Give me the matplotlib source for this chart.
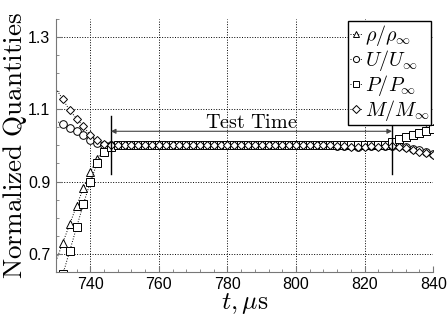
import matplotlib
matplotlib.use("Agg")
import matplotlib.pyplot as plt
from matplotlib.ticker import MultipleLocator, AutoMinorLocator

plt.rcParams['mathtext.fontset'] = 'cm'
plt.rcParams['font.family'] = 'Liberation Sans'

# sample times, microseconds
t = [730, 732, 734, 736, 738, 740, 742, 744, 746, 748, 750, 752, 754, 756, 758,
     760, 762, 764, 766, 768, 770, 772, 774, 776, 778, 780, 782, 784, 786, 788,
     790, 792, 794, 796, 798, 800, 802, 804, 806, 808, 810, 812, 814, 816, 818,
     820, 822, 824, 826, 828, 830, 832, 834, 836, 838, 840]

rho = ([0.680, 0.731, 0.782, 0.833, 0.882, 0.926, 0.963, 0.990, 0.999, 1.0]
       + [1.0] * 39
       + [1.010, 1.019, 1.023, 1.030, 1.035, 1.042, 1.048])
U = ([1.068, 1.058, 1.048, 1.039, 1.028, 1.016, 1.006, 1.001, 1.0, 1.0]
     + [1.0] * 31 + [0.999, 0.998, 0.997, 0.996, 0.997, 0.998, 0.997, 0.999]
     + [0.999, 0.997, 0.995, 0.991, 0.986, 0.981, 0.977])
P = ([0.590, 0.643, 0.708, 0.773, 0.838, 0.898, 0.951, 0.982, 0.996, 1.0]
     + [1.0] * 39
     + [1.008, 1.017, 1.022, 1.029, 1.034, 1.040, 1.046])
M = ([1.157, 1.127, 1.097, 1.074, 1.053, 1.028, 1.014, 1.005, 1.001, 1.0]
     + [1.0] * 31 + [0.999, 0.998, 0.996, 0.995, 0.996, 0.997, 0.996, 0.998]
     + [0.998, 0.995, 0.992, 0.988, 0.983, 0.978, 0.974])

labels = [r'$\rho/\rho_\infty$', r'$U/U_\infty$', r'$P/P_\infty$', r'$M/M_\infty$']
markers = ['^', 'o', 's', 'D']

test_start, test_end = 746, 828

fig = plt.figure(figsize=(4.48, 3.15), dpi=100)
ax = fig.add_axes([0.125, 0.137, 0.842, 0.803])

for y, m, lab in zip([rho, U, P, M], markers, labels):
    ax.plot(t, y, ls=':', lw=0.7, color='k', marker=m, ms=5.5 if m != 'D' else 4.5,
            mfc='white', mec='k', mew=0.7, markevery=slice(1, None), label=lab)

# test time window
for xv in [test_start, test_end]:
    ax.plot([xv, xv], [0.92, 1.08], color='k', lw=1.0)
ax.annotate('', xy=(test_start, 1.039), xytext=(test_end, 1.039),
            arrowprops=dict(arrowstyle='<|-|>', color='#444444', lw=0.8,
                            mutation_scale=7, shrinkA=0, shrinkB=0))
ax.text((test_start + test_end) / 2, 1.047, r'$\mathrm{Test\ Time}$',
        ha='center', va='baseline', fontsize=14.5)

ax.set_xlim(730, 840)
ax.set_ylim(0.65, 1.35)
ax.xaxis.set_major_locator(MultipleLocator(20))
ax.xaxis.set_minor_locator(AutoMinorLocator(5))
ax.set_yticks([0.7, 0.9, 1.1, 1.3])
ax.yaxis.set_minor_locator(AutoMinorLocator(4))
ax.tick_params(which='both', direction='in', color='#777777', labelsize=11.5, pad=4)
ax.tick_params(which='major', length=4)
ax.tick_params(which='minor', length=2.5)
ax.grid(True, which='major', ls=':', color='k', lw=0.7)
for s in ['top', 'right']:
    ax.spines[s].set_visible(False)
for s in ['left', 'bottom']:
    ax.spines[s].set_color('#777777')

ax.set_xlabel(r'$t, \mu\mathrm{s}$', fontsize=18.5, labelpad=-1)
ax.yaxis.set_label_coords(-0.11, 0.5)
ax.set_ylabel(r'$\mathrm{Normalized\ Quantities}$', fontsize=19.5, va='center')

leg = ax.legend(loc='upper right', fontsize=14.5, handlelength=0.6, handletextpad=0.15,
                borderpad=0.1, labelspacing=0.0, borderaxespad=0.1, markerscale=0.8,
                fancybox=False, framealpha=1, edgecolor='k')
leg.get_frame().set_linewidth(1.0)

fig.savefig('out.png', dpi=100)
